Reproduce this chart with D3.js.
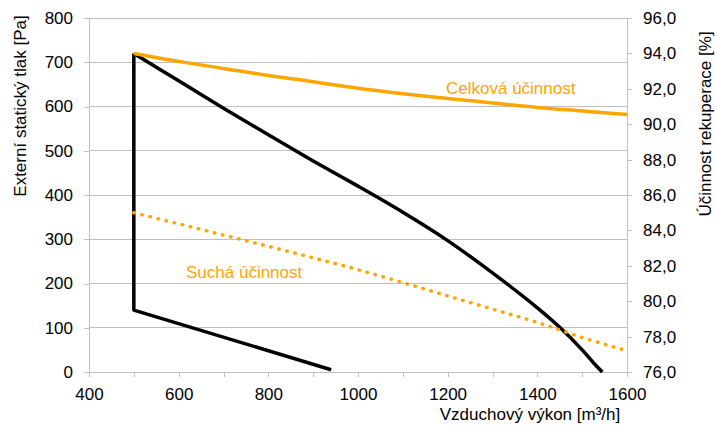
<!DOCTYPE html>
<html>
<head>
<meta charset="utf-8">
<script src="https://cdn.jsdelivr.net/npm/d3@7"></script>
<style>
  html, body { margin: 0; padding: 0; background: #fff; }
  svg { display: block; font-family: "Liberation Sans", Arial, sans-serif; }
</style>
</head>
<body>
<svg id="chart" width="715" height="427"></svg>
<script>
// ---- Data ----
// Pressure envelope (black): lower boundary + vertical min-flow line
const minFlow = [940, 500, 500];
const minPa   = [5, 140, 720];
// Pressure envelope (black): fan curve at max speed
const fanFlow = [500, 600, 700, 800, 900, 1000, 1100, 1200, 1300, 1400, 1450, 1500, 1525, 1545];
const fanPa   = [720, 658, 596, 536, 477, 420, 361, 297, 224, 145, 101, 50, 21, 0];

// Efficiency curves (right axis)
const effFlow   = [500, 600, 700, 800, 900, 1000, 1100, 1200, 1300, 1400, 1500, 1600];
const effTotal  = [94.0, 93.55, 93.15, 92.75, 92.4, 92.03, 91.72, 91.45, 91.2, 90.95, 90.75, 90.55];
const effDry    = [85.0, 84.37, 83.74, 83.1, 82.45, 81.78, 81.05, 80.3, 79.55, 78.8, 77.95, 77.2];

// Axis ticks
const xTicks      = [400, 600, 800, 1000, 1200, 1400, 1600];
const xMinorTicks = [400, 500, 600, 700, 800, 900, 1000, 1100, 1200, 1300, 1400, 1500, 1600];
const yLeftTicks  = [0, 100, 200, 300, 400, 500, 600, 700, 800];
const yRightTicks = [76, 78, 80, 82, 84, 86, 88, 90, 92, 94, 96];

const labels = {
  yLeft: "Externí statický tlak [Pa]",
  yRight: "Účinnost rekuperace [%]",
  x: "Vzduchový výkon [m³/h]",
  total: "Celková účinnost",
  dry: "Suchá účinnost"
};

// ---- Layout ----
const L = 89, R = 627, T = 18, B = 372;
const FS = 17;
const ORANGE = "#FFA500";
const GRID = "#BFBFBF";

const svg = d3.select("#chart");
const x = d3.scaleLinear().domain([400, 1600]).range([L, R]);
const yL = d3.scaleLinear().domain([0, 800]).range([B, T]);
const yR = d3.scaleLinear().domain([76, 96]).range([B, T]);

// Gridlines
svg.append("g").selectAll("line").data(yLeftTicks).join("line")
  .attr("x1", L).attr("x2", R)
  .attr("y1", d => yL(d)).attr("y2", d => yL(d))
  .attr("stroke", GRID).attr("stroke-width", 1).attr("shape-rendering", "crispEdges");

// Axes
const fmtR = d => d3.format(".1f")(d).replace(".", ",");

const gx = svg.append("g").attr("transform", `translate(0,${B})`)
  .call(d3.axisBottom(x).tickValues(xMinorTicks).tickSize(5).tickSizeOuter(0)
    .tickFormat(d => xTicks.includes(d) ? d : ""));
const gyl = svg.append("g").attr("transform", `translate(${L},0)`)
  .call(d3.axisLeft(yL).tickValues(yLeftTicks).tickSize(5).tickSizeOuter(0).tickPadding(11));
const gyr = svg.append("g").attr("transform", `translate(${R},0)`)
  .call(d3.axisRight(yR).tickValues(yRightTicks).tickSize(5).tickSizeOuter(0).tickPadding(11).tickFormat(fmtR));

[gx, gyl, gyr].forEach(g => {
  g.selectAll("path.domain").attr("stroke", GRID).attr("shape-rendering", "crispEdges");
  g.selectAll(".tick line").attr("stroke", GRID).attr("shape-rendering", "crispEdges");
  g.selectAll("text").attr("font-size", FS).attr("fill", "#000")
    .style("font-family", "'Liberation Sans', Arial, sans-serif");
});
gx.selectAll("text").attr("y", 28).attr("dy", 0);

// Axis titles
svg.append("text").attr("transform", `translate(26,106) rotate(-90)`)
  .attr("text-anchor", "middle").attr("font-size", FS).text(labels.yLeft);
svg.append("text").attr("transform", `translate(711,124) rotate(-90)`)
  .attr("text-anchor", "middle").attr("font-size", FS).text(labels.yRight);
svg.append("text").attr("x", 530).attr("y", 420)
  .attr("text-anchor", "middle").attr("font-size", FS).text(labels.x);

// Pressure envelope
svg.append("path").datum(minFlow.map((q, i) => [q, minPa[i]]))
  .attr("fill", "none").attr("stroke", "#000").attr("stroke-width", 3.5)
  .attr("stroke-linejoin", "round")
  .attr("d", d3.line().x(d => x(d[0])).y(d => yL(d[1])).curve(d3.curveLinear));
svg.append("path").datum(fanFlow.map((q, i) => [q, fanPa[i]]))
  .attr("fill", "none").attr("stroke", "#000").attr("stroke-width", 3.5)
  .attr("stroke-linejoin", "round")
  .attr("d", d3.line().x(d => x(d[0])).y(d => yL(d[1])).curve(d3.curveCatmullRom.alpha(0.5)));

// Efficiency lines
const lineR = d3.line().x(d => x(d[0])).y(d => yR(d[1])).curve(d3.curveMonotoneX);
svg.append("path").datum(effFlow.map((q, i) => [q, effDry[i]]))
  .attr("fill", "none").attr("stroke", ORANGE).attr("stroke-width", 3.5)
  .attr("stroke-linecap", "round").attr("stroke-dasharray", "0.5 7.8")
  .attr("d", lineR);
svg.append("path").datum(effFlow.map((q, i) => [q, effTotal[i]]))
  .attr("fill", "none").attr("stroke", ORANGE).attr("stroke-width", 3.5)
  .attr("d", lineR);

// Series labels
svg.append("text").attr("x", 446).attr("y", 94).attr("fill", ORANGE)
  .attr("font-size", FS).text(labels.total);
svg.append("text").attr("x", 186).attr("y", 278).attr("fill", ORANGE)
  .attr("font-size", FS).text(labels.dry);
</script>
</body>
</html>
